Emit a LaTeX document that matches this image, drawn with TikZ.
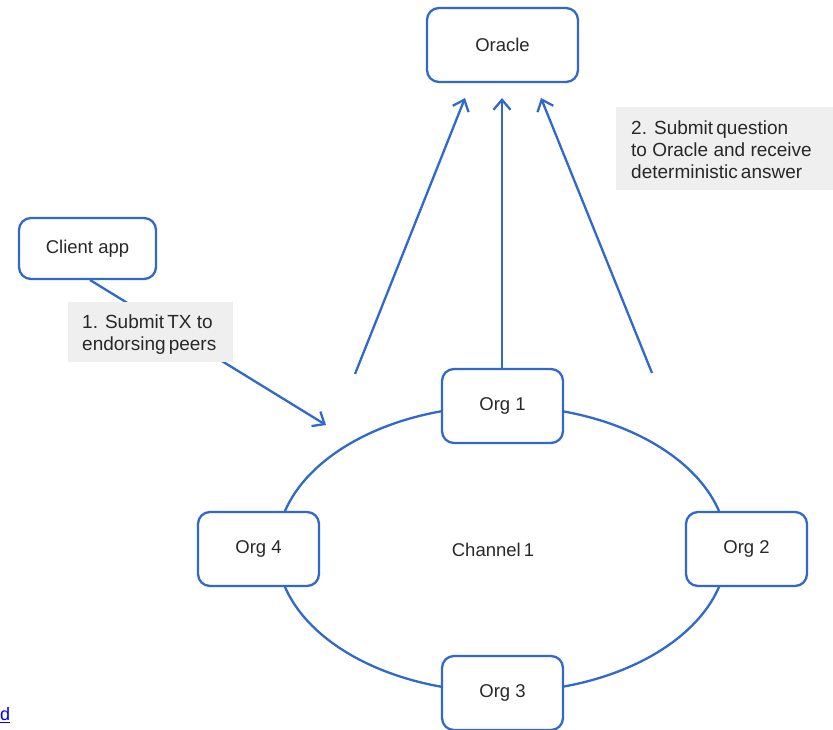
\documentclass[tikz,border=0pt]{standalone}
\usepackage{fontspec}
\setmainfont{Liberation Sans}
\usetikzlibrary{arrows.meta}
\definecolor{linkblue}{RGB}{48,104,204}
\definecolor{txtgray}{RGB}{40,40,40}
\definecolor{notegray}{RGB}{239,239,239}
\tikzset{
  box/.style={draw=linkblue, line width=2.3pt, fill=white, rounded corners=12pt,
    text=txtgray, font=\fontsize{18.5}{22}\selectfont},
  note/.style={fill=notegray, anchor=north west, inner sep=0pt},
  notetext/.style={text=txtgray, align=left, anchor=north west, inner sep=0pt,
    font=\fontsize{19}{22}\selectfont},
  conn/.style={draw=linkblue, line width=2.3pt},
  arr/.style={conn, -{Straight Barb[length=10pt, width=17pt, line width=2.3pt]}},
}
\begin{document}
\begin{tikzpicture}[x=1pt, y=-1pt]
\useasboundingbox (0,0) rectangle (833,729);

% channel ring
\draw[conn] (502,549) ellipse [x radius=225, y radius=143];

% organisations on the channel
\node[box, minimum width=121pt, minimum height=74pt] (org1) at (502.5,406) {Org 1};
\node[box, minimum width=121pt, minimum height=74pt] (org2) at (746.5,549) {Org 2};
\node[box, minimum width=121pt, minimum height=74pt] (org3) at (502.5,693) {Org 3};
\node[box, minimum width=121pt, minimum height=74pt] (org4) at (258.5,549) {Org 4};
\node[text=txtgray, font=\fontsize{18.5}{22}\selectfont] (ch) at (493,550) {Channel\,1};

% oracle and client
\node[box, minimum width=151pt, minimum height=74pt] (oracle) at (502.5,45) {Oracle};
\node[box, minimum width=137pt, minimum height=61pt] (client) at (87.5,248.5) {Client app};

% step 1: client submits transaction
\coordinate (c1) at (90,280);
\coordinate (t1) at (326,425);
\draw[arr] (c1) -- (t1);
\node[note, minimum width=165pt, minimum height=60pt] (n1) at (68,302) {};
\node[notetext] (n1t) at (82,315) {1. Submit\,TX to\\endorsing\,peers};

% step 2: query the oracle
\coordinate (s2a) at (355,374);
\coordinate (e2a) at (465,98);
\coordinate (s2b) at (502,370);
\coordinate (e2b) at (502,98);
\coordinate (s2c) at (652,373);
\coordinate (e2c) at (541,98);
\draw[arr] (s2a) -- (e2a);
\draw[arr] (s2b) -- (e2b);
\draw[arr] (s2c) -- (e2c);
\node[note, minimum width=217pt, minimum height=83pt] (n2) at (616,107) {};
\node[notetext] (n2t) at (631,121) {2. Submit\,question\\to Oracle and receive\\deterministic\,answer};

% stray link fragment
\node[anchor=west, inner sep=0pt, text=blue, font=\fontsize{18}{22}\selectfont] (lnk) at (0,715) {\underline{d}};
\end{tikzpicture}
\end{document}
